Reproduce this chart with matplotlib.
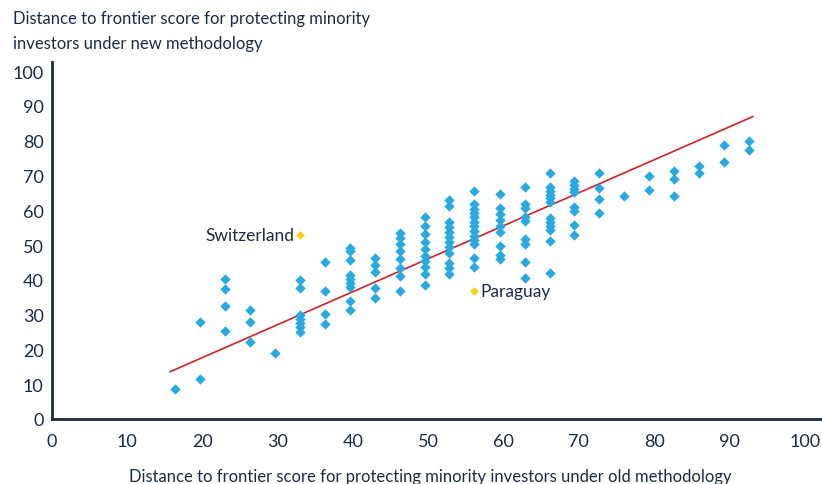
import matplotlib.pyplot as plt

# old-methodology score columns with the new-methodology scores in each
old_cols = [16.3, 19.7, 23.0, 26.3, 29.6, 33.0, 36.3, 39.6, 42.9, 46.2, 49.5, 52.8,
            56.1, 59.5, 62.8, 66.1, 69.4, 72.7, 76.0, 79.3, 82.6, 86.0, 89.3, 92.6]
new_by_col = [
    [8.6],
    [11.5, 27.8],
    [40.2, 37.5, 32.6, 25.2],
    [31.4, 27.8, 22.0],
    [18.9],
    [40.0, 37.6, 30.0, 28.8, 27.5, 26.3, 25.0],
    [45.1, 36.8, 30.2, 27.4],
    [49.1, 48.4, 45.8, 41.4, 40.2, 39.1, 37.8, 33.8, 31.4],
    [46.4, 44.3, 42.3, 37.7, 34.9],
    [53.4, 51.9, 50.2, 48.4, 46.0, 43.4, 41.2, 36.9],
    [58.0, 55.6, 53.2, 50.8, 49.0, 46.9, 45.5, 43.6, 41.7, 38.6],
    [63.0, 61.3, 56.7, 55.3, 53.8, 52.4, 50.9, 49.3, 47.7, 44.7, 43.3, 41.7],
    [65.4, 61.8, 60.3, 59.2, 58.0, 56.7, 55.6, 54.1, 52.7, 51.4, 50.3, 46.2, 43.6],
    [64.8, 60.5, 58.9, 57.3, 55.6, 53.6, 49.6, 47.2, 46.0],
    [66.8, 61.8, 60.5, 58.0, 57.0, 51.7, 50.3, 45.2, 40.4],
    [70.7, 66.8, 65.6, 64.5, 63.4, 62.5, 57.8, 56.5, 55.6, 54.4, 51.2, 42.0],
    [68.3, 67.2, 66.1, 65.1, 61.0, 59.9, 55.8, 53.0],
    [70.7, 66.4, 63.2, 59.2],
    [64.1],
    [69.8, 65.8],
    [71.4, 68.9, 64.0],
    [72.6, 70.6],
    [78.7, 73.8],
    [80.0, 77.4],
]

highlight_names = ['Switzerland', 'Paraguay']
highlight_old = [33.0, 56.1]
highlight_new = [53.0, 36.9]

trend_x = [15.7, 93.1]
trend_y = [13.6, 86.9]

navy = '#1c2b45'
blue = '#29a9e1'
yellow = '#f7d117'
red = '#cc2229'

plt.rcParams['font.family'] = ['Lato', 'DejaVu Sans']

fig = plt.figure(figsize=(8.22, 4.85), dpi=100)
ax = fig.add_axes([52 / 822, 65 / 485, 770 / 822, 357 / 485])

xs = []
ys = []
for x, col in zip(old_cols, new_by_col):
    for y in col:
        xs.append(x)
        ys.append(y)

ax.plot(trend_x, trend_y, color=red, linewidth=1.2, zorder=2)
ax.scatter(xs, ys, marker='D', s=28, color=blue, linewidths=0, zorder=3)
ax.scatter(highlight_old, highlight_new, marker='D', s=20, color=yellow, linewidths=0, zorder=3)

ax.text(highlight_old[0] - 0.8, highlight_new[0], highlight_names[0], ha='right', va='center',
        fontsize=12.5, color=navy)
ax.text(highlight_old[1] + 0.8, highlight_new[1], highlight_names[1], ha='left', va='center',
        fontsize=12.5, color=navy)

ax.set_xlim(0, 102.3)
ax.set_ylim(0, 102.6)
ax.set_xticks(range(0, 101, 10))
ax.set_yticks(range(0, 101, 10))
ax.tick_params(length=0, labelsize=13, labelcolor=navy, pad=6)
ax.tick_params(axis='x', pad=10)

for side in ['top', 'right']:
    ax.spines[side].set_visible(False)
for side in ['left', 'bottom']:
    ax.spines[side].set_color(navy)
    ax.spines[side].set_linewidth(2)

fig.text(13 / 822, 1 - 19 / 485, 'Distance to frontier score for protecting minority',
         ha='left', va='center', fontsize=12, color=navy)
fig.text(13 / 822, 1 - 44 / 485, 'investors under new methodology',
         ha='left', va='center', fontsize=12, color=navy)
fig.text(430 / 822, 1 - 477 / 485,
         'Distance to frontier score for protecting minority investors under old methodology',
         ha='center', va='center', fontsize=12, color=navy)

fig.savefig('out.png', dpi=100)
